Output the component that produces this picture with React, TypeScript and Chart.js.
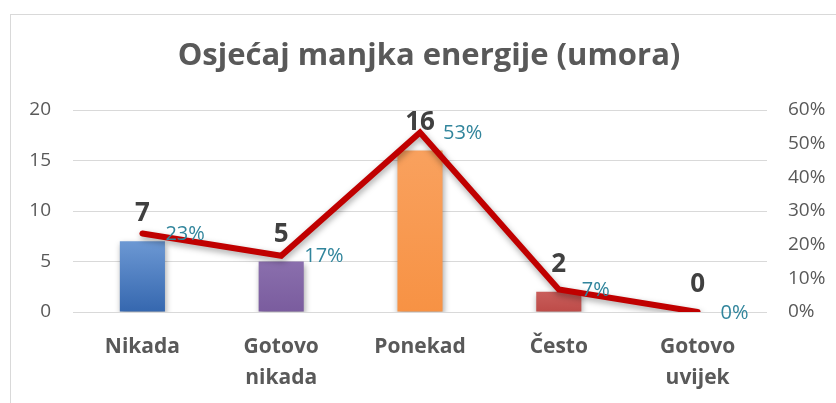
import React, { useEffect, useRef } from "react";
import { Chart, registerables } from "chart.js";

Chart.register(...registerables);

const titleText = "Osjećaj manjka energije (umora)";
const categories: string[][] = [["Nikada"], ["Gotovo", "nikada"], ["Ponekad"], ["Često"], ["Gotovo", "uvijek"]];
const counts = [7, 5, 16, 2, 0];
const percents = [23.3, 16.7, 53.3, 6.7, 0];
const percentLabels = ["23%", "17%", "53%", "7%", "0%"];
const barTopColors = ["#6C98D3", "#8A6FAD", "#F9A15E", "#C95E5B", "#C95E5B"];
const barBottomColors = ["#3567AF", "#7A5C9E", "#F79244", "#BD4B48", "#BD4B48"];
const leftMax = 20;
const leftStep = 5;
const rightMax = 60;
const rightStep = 10;

const FONT = "'Open Sans', 'Noto Sans', sans-serif";
const TEXT = "#595959";

const shadowPlugin = {
  id: "shadowPlugin",
  beforeDatasetDraw(chart: any) {
    const ctx = chart.ctx;
    ctx.save();
    ctx.shadowColor = "rgba(0,0,0,0.35)";
    ctx.shadowBlur = 6;
    ctx.shadowOffsetX = 1;
    ctx.shadowOffsetY = 3;
  },
  afterDatasetDraw(chart: any) {
    chart.ctx.restore();
  },
};

const titlePlugin = {
  id: "customTitle",
  afterDraw(chart: any) {
    const ctx = chart.ctx;
    ctx.save();
    ctx.font = `bold 31px ${FONT}`;
    ctx.fillStyle = TEXT;
    ctx.textAlign = "center";
    ctx.textBaseline = "middle";
    ctx.fillText(titleText, 429, 56);
    ctx.restore();
  },
};

const labelPlugin = {
  id: "labelPlugin",
  afterDatasetsDraw(chart: any) {
    const ctx = chart.ctx;
    const barMeta = chart.getDatasetMeta(0);
    const lineMeta = chart.getDatasetMeta(1);
    ctx.save();
    ctx.font = `bold 26px ${FONT}`;
    ctx.fillStyle = "#404040";
    ctx.textAlign = "center";
    ctx.textBaseline = "alphabetic";
    barMeta.data.forEach((el: any, i: number) => {
      ctx.fillText(String(counts[i]), el.x, el.y - 20);
    });
    ctx.font = `20px ${FONT}`;
    ctx.fillStyle = "#31859C";
    ctx.textAlign = "left";
    ctx.textBaseline = "middle";
    lineMeta.data.forEach((el: any, i: number) => {
      ctx.fillText(percentLabels[i], el.x + 23, el.y + 1);
    });
    ctx.restore();
  },
};

export default function App() {
  const ref = useRef<HTMLCanvasElement | null>(null);

  useEffect(() => {
    if (!ref.current) return;
    const chart = new Chart(ref.current, {
      type: "bar",
      data: {
        labels: categories,
        datasets: [
          {
            type: "bar",
            data: counts,
            yAxisID: "y",
            order: 2,
            categoryPercentage: 1,
            barPercentage: 0.325,
            backgroundColor: (c: any) => {
              const i = c.dataIndex;
              const chartObj = c.chart;
              const ys = chartObj.scales && chartObj.scales.y;
              if (!ys || i === undefined) return barBottomColors[i || 0];
              const top = ys.getPixelForValue(counts[i]);
              const bottom = ys.getPixelForValue(0);
              if (!(bottom - top > 1)) return barBottomColors[i];
              const g = chartObj.ctx.createLinearGradient(0, top, 0, bottom);
              g.addColorStop(0, barTopColors[i]);
              g.addColorStop(1, barBottomColors[i]);
              return g;
            },
          } as any,
          {
            type: "line",
            data: percents,
            yAxisID: "y1",
            order: 1,
            borderColor: "#C00000",
            borderWidth: 6,
            pointRadius: 0,
            tension: 0,
            borderCapStyle: "round",
            borderJoinStyle: "miter",
          } as any,
        ],
      },
      options: {
        animation: false,
        responsive: false,
        maintainAspectRatio: false,
        layout: { padding: { top: 110, left: 0, right: 0, bottom: 0 } },
        plugins: {
          legend: { display: false },
          tooltip: { enabled: false },
          title: { display: false },
        },
        scales: {
          x: {
            offset: true,
            grid: { display: false, drawTicks: false },
            border: { display: false },
            ticks: {
              color: TEXT,
              font: { family: FONT, size: 21, weight: "bold", lineHeight: 1.5 },
              padding: 19,
              maxRotation: 0,
              autoSkip: false,
            },
            afterFit: (s: any) => {
              s.height = 91;
            },
          },
          y: {
            position: "left",
            min: 0,
            max: leftMax,
            grid: { color: "#D9D9D9", lineWidth: 1, drawTicks: false },
            border: { display: false },
            ticks: {
              stepSize: leftStep,
              color: TEXT,
              font: { family: FONT, size: 19 },
              padding: 22,
            },
            afterFit: (s: any) => {
              s.width = 73;
            },
          },
          y1: {
            position: "right",
            min: 0,
            max: rightMax,
            grid: { display: false, drawTicks: false },
            border: { display: false },
            ticks: {
              stepSize: rightStep,
              color: TEXT,
              font: { family: FONT, size: 19 },
              padding: 21,
              callback: (v: any) => v + "%",
            },
            afterFit: (s: any) => {
              s.width = 69;
            },
          },
        },
      } as any,
      plugins: [shadowPlugin, labelPlugin, titlePlugin],
    });
    return () => chart.destroy();
  }, []);

  return (
    <div style={{ position: "fixed", left: 0, top: 0, width: 836, height: 403, overflow: "hidden", background: "#fff" }}>
      <div
        style={{
          position: "absolute",
          left: 10,
          top: 14,
          width: 900,
          height: 500,
          border: "1px solid #D9D9D9",
          boxSizing: "border-box",
        }}
      />
      <canvas ref={ref} width={836} height={403} style={{ position: "absolute", left: 0, top: 0, width: 836, height: 403 }} />
    </div>
  );
}
